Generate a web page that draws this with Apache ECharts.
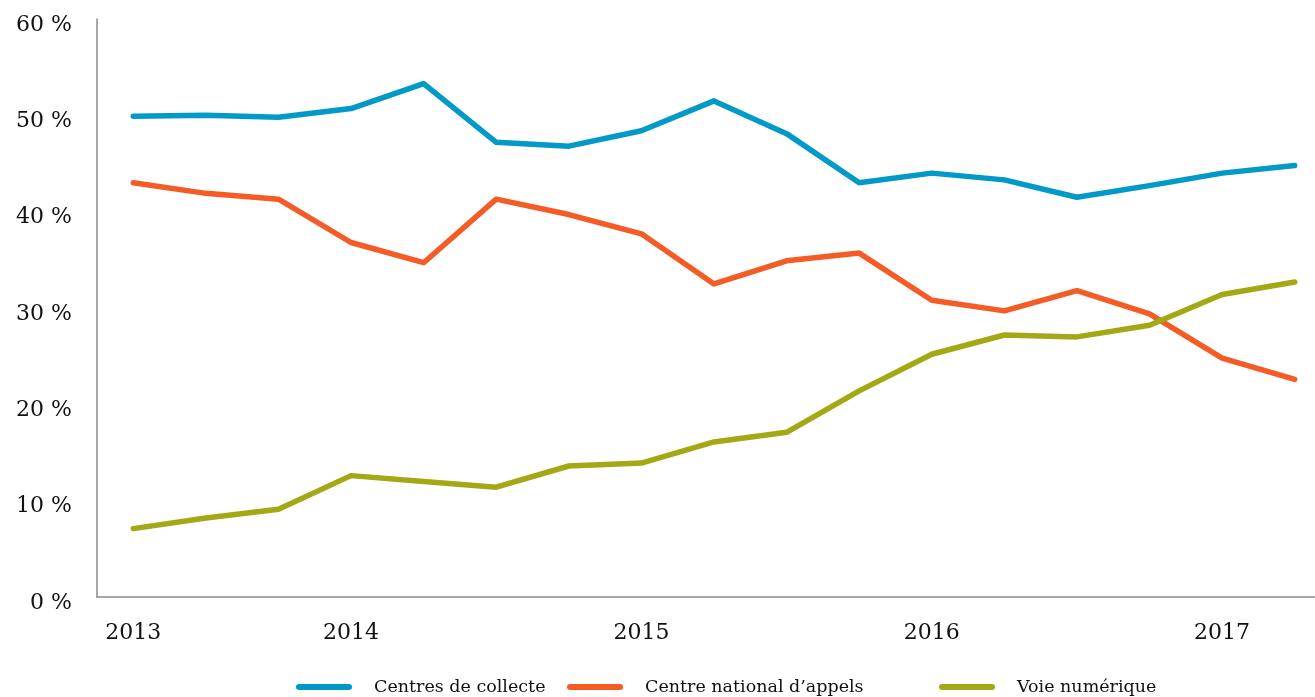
<!DOCTYPE html>
<html>
<head>
<meta charset="utf-8">
<script src="https://cdn.jsdelivr.net/npm/echarts@6/dist/echarts.min.js"></script>
<style>
  html, body { margin: 0; padding: 0; background: #fff; }
  #chart { width: 1315px; height: 697px; }
</style>
</head>
<body>
<div id="chart"></div>
<script>
// quarters, 2013 T2 -> 2017 T2
const quarters = [
  'T2 2013', 'T3 2013', 'T4 2013',
  'T1 2014', 'T2 2014', 'T3 2014', 'T4 2014',
  'T1 2015', 'T2 2015', 'T3 2015', 'T4 2015',
  'T1 2016', 'T2 2016', 'T3 2016', 'T4 2016',
  'T1 2017', 'T2 2017'
];
const centresCollecte = [49.9, 50.0, 49.8, 50.7, 53.3, 47.2, 46.8, 48.4, 51.5, 48.1, 43.0, 44.0, 43.3, 41.5, 42.7, 44.0, 44.8];
const centreAppels = [43.0, 41.9, 41.3, 36.8, 34.7, 41.3, 39.7, 37.7, 32.5, 34.9, 35.7, 30.8, 29.7, 31.8, 29.4, 24.8, 22.6];
const voieNumerique = [7.1, 8.2, 9.1, 12.6, 12.0, 11.4, 13.6, 13.9, 16.1, 17.1, 21.4, 25.2, 27.2, 27.0, 28.2, 31.4, 32.7];

const seriesNames = ['Centres de collecte', 'Centre national d\u2019appels', 'Voie num\u00e9rique'];
const colors = ['#0099c8', '#f55b24', '#a2a914'];

const font = 'DejaVu Serif';
const lineIcon = 'path://M3,0 H53 A3,3 0 0 1 53,6 H3 A3,3 0 0 1 3,0 Z';

function legendAt(name, left) {
  return {
    data: [name],
    left: left,
    top: 678,
    padding: 0,
    icon: lineIcon,
    itemWidth: 56,
    itemHeight: 6,
    selectedMode: false,
    textStyle: { fontFamily: font, fontSize: 17.5, color: '#111', padding: [0, 0, 0, 17] }
  };
}

function makeLine(name, data, color) {
  return {
    name: name,
    type: 'line',
    data: data,
    symbol: 'none',
    color: color,
    lineStyle: { width: 5.5, color: color, cap: 'round', join: 'round' }
  };
}

const chart = echarts.init(document.getElementById('chart'));
chart.setOption({
  animation: false,
  backgroundColor: '#fff',
  grid: { left: 97, top: 19, width: 1234, bottom: 100, outerBoundsMode: 'none' },
  legend: [
    legendAt(seriesNames[0], 296),
    legendAt(seriesNames[1], 567),
    legendAt(seriesNames[2], 939)
  ],
  xAxis: {
    type: 'category',
    data: quarters,
    boundaryGap: true,
    axisLine: { lineStyle: { color: '#8a8a8a', width: 1.5 } },
    axisTick: { show: false },
    axisLabel: {
      interval: 0,
      margin: 25,
      fontFamily: font,
      fontSize: 22,
      color: '#111',
      formatter: (v, i) => (i === 0 || v.startsWith('T1')) ? v.slice(3) : ''
    }
  },
  yAxis: {
    type: 'value',
    min: 0,
    max: 60,
    interval: 10,
    axisLine: { show: true, lineStyle: { color: '#8a8a8a', width: 1.5 } },
    axisTick: { show: false },
    splitLine: { show: false },
    axisLabel: {
      margin: 25,
      fontFamily: font,
      fontSize: 22,
      color: '#111',
      verticalAlign: 'top',
      lineHeight: 12,
      formatter: '{value} %'
    }
  },
  series: [
    makeLine(seriesNames[0], centresCollecte, colors[0]),
    makeLine(seriesNames[1], centreAppels, colors[1]),
    makeLine(seriesNames[2], voieNumerique, colors[2])
  ]
});
</script>
</body>
</html>
